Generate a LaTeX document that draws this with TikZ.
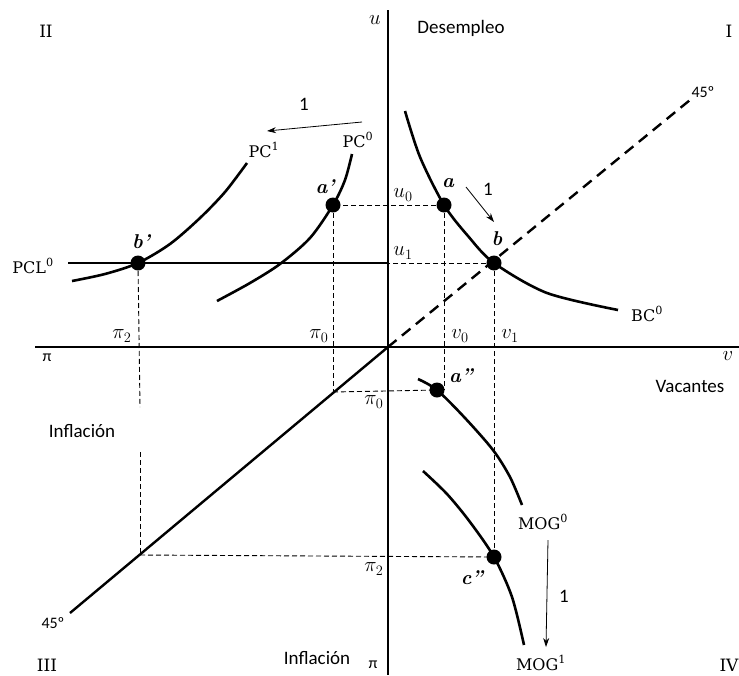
\documentclass[tikz,border=0pt]{standalone}
\usepackage{fontspec}
\newfontfamily\calfont{Carlito}
\newfontfamily\dvserif{DejaVu Serif}
\usetikzlibrary{arrows.meta}
\begin{document}
\begin{tikzpicture}[x=1pt,y=-1pt,
  curve/.style={line width=2.6pt},
  axisline/.style={line width=1.2pt},
  guide/.style={line width=0.9pt, dash pattern=on 5pt off 3pt},
  fortyfive/.style={line width=2.4pt, dash pattern=on 11pt off 7pt},
  dotnode/.style={circle, fill=black, inner sep=0pt, minimum size=15pt},
  shiftarrow/.style={line width=0.8pt, -{Stealth[length=9pt,width=6pt]}},
  serif/.style={font=\fontsize{16}{18}\selectfont\dvserif, inner sep=0pt},
  roman/.style={font=\fontsize{17}{19}\selectfont\dvserif, inner sep=0pt},
  mathlbl/.style={font=\fontsize{21}{23}\selectfont, inner sep=0pt},
  ptlbl/.style={font=\fontsize{20}{22}\selectfont\bfseries\itshape, inner sep=0pt},
  sans/.style={font=\fontsize{19}{21}\selectfont\calfont, inner sep=0pt},
  small/.style={font=\fontsize{16}{18}\selectfont\calfont, inner sep=0pt}]
\useasboundingbox (0,0) rectangle (739,675);
% axes
\coordinate (O) at (388,347);
\coordinate (ytop) at (388,10);
\coordinate (ybot) at (388,675);
\coordinate (xl) at (35,347);
\coordinate (xr) at (739,347);
\draw[axisline] (ytop) -- (ybot);
\draw[axisline] (xl) -- (xr);
% points
\node[dotnode] (a) at (444,205) {};
\node[dotnode] (b) at (494,263) {};
\node[dotnode] (ap) at (333,205) {};
\node[dotnode] (bp) at (138,263) {};
\node[dotnode] (app) at (437,390) {};
\node[dotnode] (cpp) at (494,557) {};
\coordinate (p0) at (333,392);
\coordinate (p2) at (140,555);
\coordinate (g1) at (140,407);
\coordinate (g2) at (140,452);
\coordinate (u45) at (690,100);
\coordinate (l45) at (70,613);
\coordinate (pclL) at (68,263);
% 45 degree lines
\draw[fortyfive] (O) -- (u45);
\draw[line width=2.4pt] (O) -- (l45);
% guides
\draw[guide] (a.center) -- (ap.center);
\draw[guide] (a.center) -- (a.center |- app.center);
\draw[guide] (b.center) -- (b.center -| O);
\draw[guide] (b.center) -- (cpp.center);
\draw[guide] (ap.center) -- (p0);
\draw[guide] (p0) -- (app.center);
\draw[guide] (bp.center) -- (g1);
\draw[guide] (g2) -- (p2);
\draw[guide] (p2) -- (cpp.center);
% PCL0
\draw[line width=2.2pt] (pclL) -- (pclL -| O);
% curves
\draw[curve] plot[smooth] coordinates {(405,111) (420,157) (444,205) (468,236) (494,263) (547,293) (618,310)};
\draw[curve] plot[smooth] coordinates {(217,301) (250,283) (280,264) (310,238) (333,205) (345,180) (352,154)};
\draw[curve] plot[smooth] coordinates {(72,281) (105,274) (138,263) (170,244) (200,218) (225,192) (247,163)};
\draw[curve] plot[smooth] coordinates {(418,379) (437,390) (465,418) (493,450) (510,477) (522,505)};
\draw[curve] plot[smooth] coordinates {(423,471) (447,494) (470,522) (494,557) (512,597) (524,645)};
% shift arrows
\coordinate (ar1s) at (362,122);
\coordinate (ar1e) at (267,131);
\coordinate (ar2s) at (466,187);
\coordinate (ar2e) at (494,222);
\coordinate (ar3s) at (548,540);
\coordinate (ar3e) at (546,647);
\draw[shiftarrow] (ar1s) -- (ar1e);
\draw[shiftarrow] (ar2s) -- (ar2e);
\draw[shiftarrow] (ar3s) -- (ar3e);
% quadrant labels
\node[roman] (qII) at (46,31) {II};
\node[roman] (qI) at (729,31) {I};
\node[roman] (qIII) at (47,665) {III};
\node[roman] (qIV) at (729,665) {IV};
% axis labels
\node[mathlbl] (lu) at (375,20) {$u$};
\node[sans, anchor=base] (ldes) at (461,33) {Desempleo};
\node[mathlbl] (lv) at (728,356) {$v$};
\node[sans, anchor=base] (lvac) at (690,392) {Vacantes};
\node[sans, anchor=base] (linf1) at (82,437) {Inflación};
\node[sans, anchor=base] (linf2) at (317,664) {Inflación};
\node[small] (lpil) at (47,358) {π};
\node[small] (lpib) at (373,665) {π};
\node[small] (l45u) at (703,92) {45º};
\node[small] (l45l) at (53,623) {45º};
% value labels
\node[mathlbl] (lu0) at (403,195) {$u_0$};
\node[mathlbl] (lu1) at (403,253) {$u_1$};
\node[mathlbl] (lv0) at (460,336) {$v_0$};
\node[mathlbl] (lv1) at (510,336) {$v_1$};
\node[mathlbl] (lpi0u) at (319,336) {$\pi_0$};
\node[mathlbl] (lpi2u) at (122,336) {$\pi_2$};
\node[mathlbl] (lpi0l) at (374,402) {$\pi_0$};
\node[mathlbl] (lpi2l) at (374,569) {$\pi_2$};
% point labels
\node[ptlbl] (la) at (448,183) {a};
\node[ptlbl] (lb) at (497,239) {b};
\node[ptlbl] (lap) at (325,187) {a’};
\node[ptlbl] (lbp) at (141,242) {b’};
\node[ptlbl] (lapp) at (461,376) {a”};
\node[ptlbl] (lcpp) at (472,578) {c”};
% curve labels
\node[serif] (lbc) at (647,314) {BC\textsuperscript{0}};
\node[serif] (lpc1) at (264,150) {PC\textsuperscript{1}};
\node[serif] (lpc0) at (358,140) {PC\textsuperscript{0}};
\node[serif] (lpcl) at (33,266) {PCL\textsuperscript{0}};
\node[serif] (lmog0) at (543,522) {MOG\textsuperscript{0}};
\node[serif] (lmog1) at (541,663) {MOG\textsuperscript{1}};
% shift numbers
\node[sans] (n1) at (304,104) {1};
\node[sans] (n2) at (488,189) {1};
\node[sans] (n3) at (564,596) {1};
\end{tikzpicture}
\end{document}
